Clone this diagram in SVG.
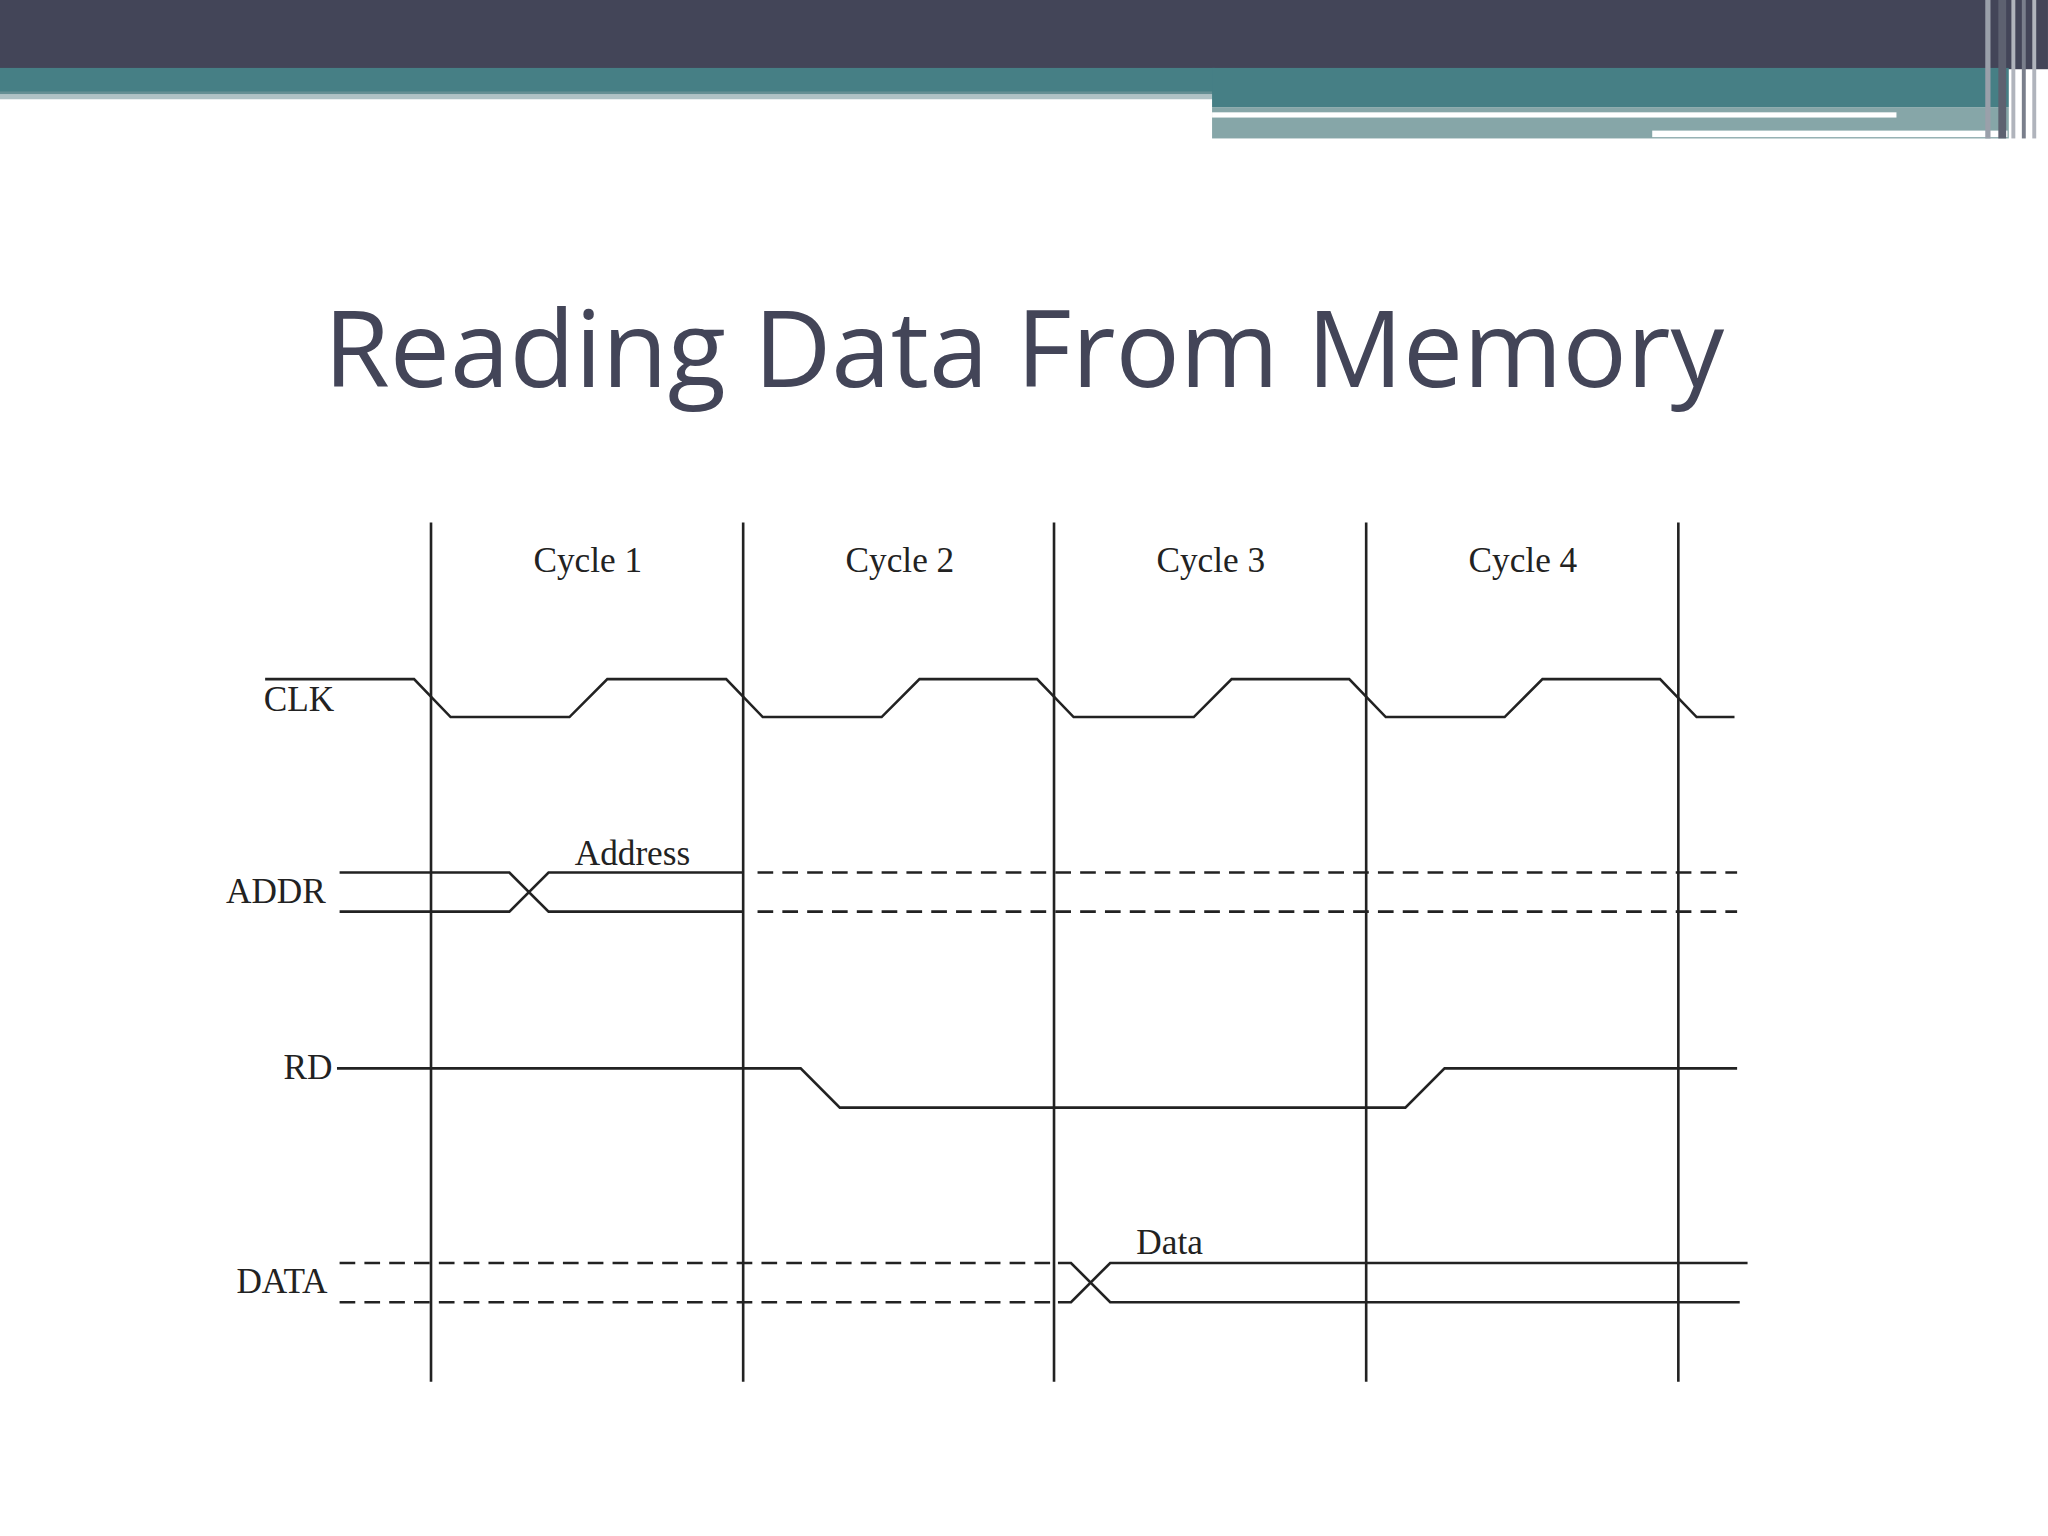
<svg xmlns="http://www.w3.org/2000/svg" width="2048" height="1536" viewBox="0 0 2048 1536">
<style>
.w{fill:none;stroke:#222;stroke-width:2}
.d{fill:none;stroke:#222;stroke-width:2;stroke-dasharray:12 7}
.t{font-family:"Liberation Serif",serif;font-size:27px;fill:#222}
</style>
<rect width="2048" height="1536" fill="#fff"/>
<g transform="scale(1.3061)">
<g id="header">
<rect x="0" y="0" width="1568" height="53" fill="#434558"/>
<rect x="0" y="52" width="930" height="20" fill="#467f85"/>
<rect x="0" y="70" width="930" height="6" fill="#7a9a9e" opacity="0.6"/>
<rect x="928" y="52" width="610" height="30" fill="#467f85"/>
<rect x="928" y="82" width="610" height="24" fill="#86a6a8"/>
<rect x="928" y="86" width="524" height="4" fill="#fff"/>
<rect x="1265" y="100" width="272" height="5" fill="#fff"/>
<rect x="1520" y="0" width="4" height="106" fill="#9aa0aa"/>
<rect x="1530" y="0" width="6" height="106" fill="#5d6170"/>
<rect x="1540" y="0" width="3" height="106" fill="#b0b4bc"/>
<rect x="1548" y="0" width="3" height="106" fill="#7a7f8c"/>
<rect x="1556" y="0" width="3" height="106" fill="#b0b4bc"/>
</g>
<text id="title" x="784" y="296" text-anchor="middle" font-family="Open Sans, sans-serif" font-size="82" fill="#434558">Reading Data From Memory</text>
<g id="grid" class="w">
<path class="w" d="M330 400V1058M569 400V1058M807 400V1058M1046 400V1058M1285 400V1058"/>
</g>
<g id="labels">
<text class="t" x="450" y="438" text-anchor="middle">Cycle 1</text>
<text class="t" x="689" y="438" text-anchor="middle">Cycle 2</text>
<text class="t" x="927" y="438" text-anchor="middle">Cycle 3</text>
<text class="t" x="1166" y="438" text-anchor="middle">Cycle 4</text>
<text class="t" x="202" y="544">CLK</text>
<text class="t" x="173" y="691">ADDR</text>
<text class="t" x="217" y="826">RD</text>
<text class="t" x="181" y="990">DATA</text>
<text class="t" x="440" y="662">Address</text>
<text class="t" x="870" y="960">Data</text>
</g>
<g id="connectors">
<path class="w" d="M203 520H317L345 549H436L465 520H556L584 549H675L704 520H794L822 549H914L943 520H1033L1061 549H1152L1181 520H1271L1299 549H1328"/>
<path class="w" d="M260 668H390L420 698H569M260 698H390L420 668H569"/>
<path class="d" d="M580 668H1330M580 698H1330"/>
<path class="w" d="M258 818H613L643 848H1076L1106 818H1330"/>
<path class="d" d="M260 967H810M260 997H810"/>
<path class="w" d="M810 967H820L850 997H1332M810 997H820L850 967H1338"/>
</g>
</g>
</svg>
